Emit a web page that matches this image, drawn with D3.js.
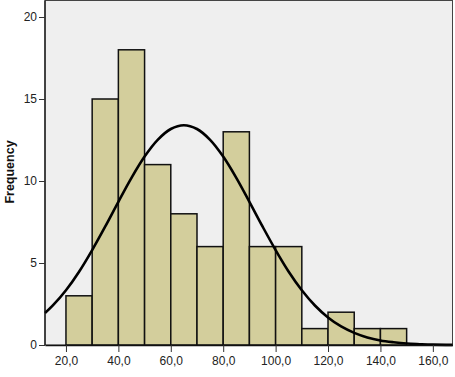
<!DOCTYPE html>
<html>
<head>
<meta charset="utf-8">
<script src="https://cdn.jsdelivr.net/npm/d3@7"></script>
<style>
  body { margin: 0; background: #fff; }
  svg { display: block; }
  .tick text { font-family: Arial, "Liberation Sans", sans-serif; font-size: 12px; fill: #222; }
</style>
</head>
<body>
<svg width="455" height="377"></svg>
<script>
// histogram bins (lower edge, upper edge) and counts
var binStart = [20, 30, 40, 50, 60, 70, 80, 90, 100, 110, 120, 130, 140];
var binEnd   = [30, 40, 50, 60, 70, 80, 90, 100, 110, 120, 130, 140, 150];
var counts   = [3, 15, 18, 11, 8, 6, 13, 6, 6, 1, 2, 1, 1];

// fitted normal curve
var curveX = [12, 15, 20, 25, 30, 35, 40, 45, 50, 55, 60, 65, 70, 75, 80, 85, 90, 95, 100, 105, 110, 115, 120, 125, 130, 135, 140, 145, 150, 155, 160, 167.5];
var curveY = [1.95, 2.41, 3.34, 4.47, 5.79, 7.23, 8.73, 10.19, 11.49, 12.51, 13.17, 13.4, 13.17, 12.51, 11.49, 10.19, 8.73, 7.23, 5.79, 4.47, 3.34, 2.41, 1.68, 1.13, 0.74, 0.46, 0.28, 0.17, 0.09, 0.05, 0.02, 0.01];

var xTicks = [20, 40, 60, 80, 100, 120, 140, 160];
var yTicks = [0, 5, 10, 15, 20];

var svg = d3.select("svg"),
    plotL = 45, plotR = 452.5, plotT = 0.5, plotB = 345;

var x = d3.scaleLinear().domain([12, 167.5]).range([plotL, plotR]);
var y = d3.scaleLinear().domain([0, 20]).range([plotB, 17]);

// plot background
svg.append("rect")
    .attr("x", plotL).attr("y", plotT)
    .attr("width", plotR - plotL).attr("height", plotB - plotT)
    .attr("fill", "#efefef")
    .attr("stroke", "#444").attr("stroke-width", 1);

var bins = counts.map(function (c, i) {
    return { x0: binStart[i], x1: binEnd[i], n: c };
});

svg.selectAll(".bar")
    .data(bins)
    .enter().append("rect")
    .attr("class", "bar")
    .attr("x", function (d) { return x(d.x0); })
    .attr("y", function (d) { return y(d.n); })
    .attr("width", function (d) { return x(d.x1) - x(d.x0); })
    .attr("height", function (d) { return y(0) - y(d.n); })
    .attr("fill", "#d3ce9c")
    .attr("stroke", "#111")
    .attr("stroke-width", 1.5);

var line = d3.line()
    .x(function (d, i) { return x(curveX[i]); })
    .y(function (d) { return y(d); })
    .curve(d3.curveCatmullRom);

svg.append("path")
    .datum(curveY)
    .attr("d", line)
    .attr("fill", "none")
    .attr("stroke", "#000")
    .attr("stroke-width", 2.6);

// axes
var xAxis = svg.append("g")
    .attr("transform", "translate(0," + plotB + ")")
    .call(d3.axisBottom(x).tickValues(xTicks).tickSize(7).tickSizeOuter(0)
        .tickFormat(function (d) { return d3.format(".1f")(d).replace(".", ","); }));
xAxis.select(".domain").attr("stroke", "#111").attr("stroke-width", 1.3);
xAxis.selectAll(".tick line").attr("stroke", "#333");
xAxis.selectAll(".tick text").attr("dy", "0.85em");

var yAxis = svg.append("g")
    .attr("transform", "translate(" + plotL + ",0)")
    .call(d3.axisLeft(y).tickValues(yTicks).tickSize(6).tickSizeOuter(0));
yAxis.select(".domain").attr("stroke", "#111").attr("stroke-width", 1.3)
    .attr("d", "M0," + plotT + "V" + plotB);
yAxis.selectAll(".tick line").attr("stroke", "#333");
yAxis.selectAll(".tick text").attr("x", -8);

svg.append("text")
    .attr("transform", "translate(14,172) rotate(-90)")
    .attr("text-anchor", "middle")
    .attr("font-family", "Arial, 'Liberation Sans', sans-serif")
    .attr("font-size", 12.5)
    .attr("font-weight", "bold")
    .attr("fill", "#111")
    .text("Frequency");
</script>
</body>
</html>
